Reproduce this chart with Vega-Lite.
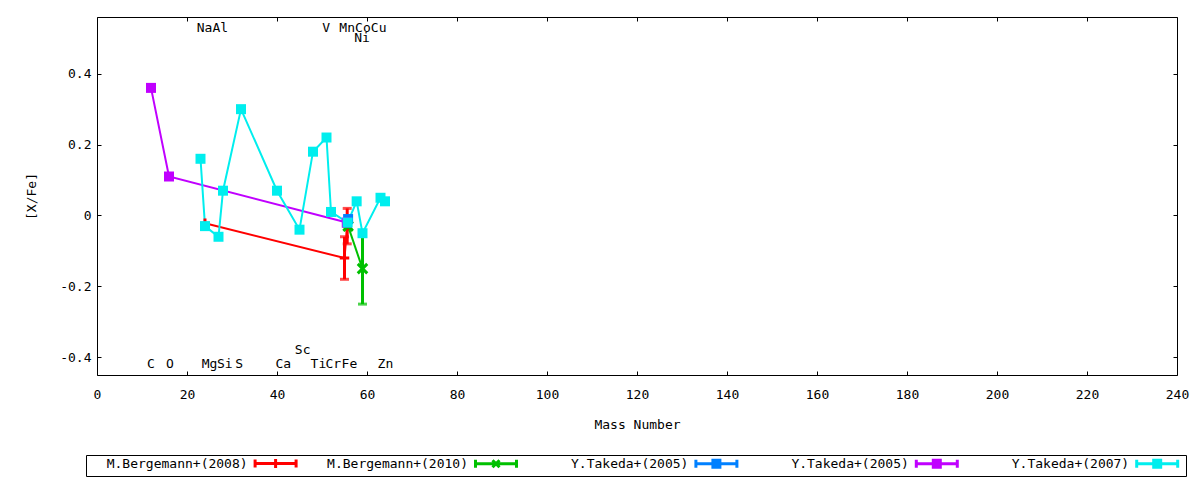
{
  "$schema": "https://vega.github.io/schema/vega-lite/v6.json",
  "width": 1080,
  "height": 358,
  "autosize": {"type": "none"},
  "padding": {"left": 97, "top": 17, "right": 23, "bottom": 105},
  "background": "white",
  "config": {
    "view": {"stroke": "black", "strokeWidth": 1},
    "font": "DejaVu Sans Mono",
    "axis": {
      "labelFont": "DejaVu Sans Mono", "labelFontSize": 13, "labelColor": "black",
      "titleFont": "DejaVu Sans Mono", "titleFontSize": 13, "titleFontWeight": "normal", "titleColor": "black",
      "tickColor": "black", "tickWidth": 1, "domain": false, "grid": false
    },
    "legend": {
      "labelFont": "DejaVu Sans Mono", "labelFontSize": 13, "labelColor": "black"
    }
  },
  "datasets": {
    "series": [
      {"s": "B08", "A": 24, "v": -0.022, "lo": -0.022, "hi": -0.022},
      {"s": "B08", "A": 55, "v": -0.12, "lo": -0.18, "hi": -0.06},
      {"s": "B08", "A": 55.6, "v": -0.03, "lo": -0.08, "hi": 0.02},
      {"s": "B10", "A": 55.8, "v": -0.03, "lo": -0.04, "hi": -0.02},
      {"s": "B10", "A": 59, "v": -0.15, "lo": -0.25, "hi": -0.05},
      {"s": "T05a", "A": 55.8, "v": -0.01, "lo": -0.01, "hi": -0.01},
      {"s": "T05b", "A": 12, "v": 0.36, "lo": 0.36, "hi": 0.36},
      {"s": "T05b", "A": 16, "v": 0.11, "lo": 0.11, "hi": 0.11},
      {"s": "T05b", "A": 55.5, "v": -0.02, "lo": -0.02, "hi": -0.02},
      {"s": "T07", "A": 23, "v": 0.16, "lo": 0.16, "hi": 0.16},
      {"s": "T07", "A": 24, "v": -0.03, "lo": -0.03, "hi": -0.03},
      {"s": "T07", "A": 27, "v": -0.06, "lo": -0.06, "hi": -0.06},
      {"s": "T07", "A": 28, "v": 0.07, "lo": 0.07, "hi": 0.07},
      {"s": "T07", "A": 32, "v": 0.30, "lo": 0.30, "hi": 0.30},
      {"s": "T07", "A": 40, "v": 0.07, "lo": 0.07, "hi": 0.07},
      {"s": "T07", "A": 45, "v": -0.04, "lo": -0.04, "hi": -0.04},
      {"s": "T07", "A": 48, "v": 0.18, "lo": 0.18, "hi": 0.18},
      {"s": "T07", "A": 51, "v": 0.22, "lo": 0.22, "hi": 0.22},
      {"s": "T07", "A": 52, "v": 0.01, "lo": 0.01, "hi": 0.01},
      {"s": "T07", "A": 55.7, "v": -0.02, "lo": -0.02, "hi": -0.02},
      {"s": "T07", "A": 57.7, "v": 0.04, "lo": 0.04, "hi": 0.04},
      {"s": "T07", "A": 59, "v": -0.05, "lo": -0.05, "hi": -0.05},
      {"s": "T07", "A": 63, "v": 0.05, "lo": 0.05, "hi": 0.05},
      {"s": "T07", "A": 64, "v": 0.04, "lo": 0.04, "hi": 0.04}
    ],
    "elements": [
      {"el": "Na", "A": 23.9, "v": 0.53},
      {"el": "Al", "A": 27.4, "v": 0.53},
      {"el": "V", "A": 50.9, "v": 0.53},
      {"el": "Mn", "A": 55.6, "v": 0.53},
      {"el": "Co", "A": 59.1, "v": 0.53},
      {"el": "Cu", "A": 62.6, "v": 0.53},
      {"el": "Ni", "A": 58.9, "v": 0.50},
      {"el": "C", "A": 12, "v": -0.42},
      {"el": "O", "A": 16.2, "v": -0.42},
      {"el": "Mg", "A": 25, "v": -0.42},
      {"el": "Si", "A": 28.4, "v": -0.42},
      {"el": "S", "A": 31.6, "v": -0.42},
      {"el": "Ca", "A": 41.4, "v": -0.42},
      {"el": "Ti", "A": 49.2, "v": -0.42},
      {"el": "Cr", "A": 52.5, "v": -0.42},
      {"el": "Fe", "A": 56.1, "v": -0.42},
      {"el": "Zn", "A": 64.1, "v": -0.42},
      {"el": "Sc", "A": 45.7, "v": -0.38}
    ]
  },
  "resolve": {"axis": {"x": "independent", "y": "independent"}},
  "layer": [
    {
      "data": {"name": "series"},
      "transform": [{"filter": "datum.lo !== datum.hi"}],
      "mark": {"type": "rule", "strokeWidth": 3},
      "encoding": {
        "x": {"field": "A", "type": "quantitative", "scale": {"domain": [0, 240], "nice": false, "zero": false},
          "axis": {"orient": "bottom", "values": [0,20,40,60,80,100,120,140,160,180,200,220,240], "tickSize": -4, "labelPadding": 17, "title": "Mass Number", "titlePadding": 17, "labelFlush": false}},
        "y": {"field": "lo", "type": "quantitative", "scale": {"domain": [-0.45, 0.56], "nice": false, "zero": false},
          "axis": {"orient": "left", "values": [-0.4,-0.2,0,0.2,0.4], "tickSize": -4, "labelPadding": 10, "labelExpr": "'' + datum.value", "title": "[X/Fe]", "titlePadding": 21}},
        "y2": {"field": "hi"},
        "color": {
          "field": "s", "type": "nominal",
          "scale": {"domain": ["B08", "B10", "T05a", "T05b", "T07"], "range": ["#ff0000", "#00c000", "#0080ff", "#c000ff", "#00eeee"]},
          "legend": {
            "orient": "none", "legendX": -11, "legendY": 438,
            "direction": "horizontal", "columns": 5, "columnPadding": 5.4, "rowPadding": 0,
            "padding": 2, "strokeColor": "black", "title": null,
            "symbolSize": 100, "symbolStrokeWidth": 3, "symbolOffset": 181.1,
            "labelAlign": "right", "labelOffset": -34.5, "labelLimit": 300, "labelBaseline": "middle",
            "labelExpr": "datum.value === 'B08' ? 'M.Bergemann+(2008)' : datum.value === 'B10' ? 'M.Bergemann+(2010)' : datum.value === 'T07' ? 'Y.Takeda+(2007)' : 'Y.Takeda+(2005)'",
            "encode": {
              "symbols": {
                "update": {
                  "fill": {"scale": "color", "field": "value"},
                  "stroke": {"scale": "color", "field": "value"},
                  "strokeWidth": {"value": 3},
                  "opacity": {"value": 1},
                  "shape": {"signal": "datum.value === 'B08' ? 'M-4.1,0H4.1M-4.1,-0.8V0.8M4.1,-0.8V0.8M0,-0.9V0.9' : datum.value === 'B10' ? 'M-4.1,0H4.1M-4.1,-0.8V0.8M4.1,-0.8V0.8M-0.7,-0.7L0.7,0.7M-0.7,0.7L0.7,-0.7' : 'M-4.1,0H4.1M-4.1,-0.8V0.8M4.1,-0.8V0.8M-0.7,-0.7H0.7V0.7H-0.7Z'"}
                }
              }
            }
          }
        }
      }
    },
    {
      "data": {"name": "series"},
      "transform": [{"filter": "datum.lo !== datum.hi"}],
      "mark": {"type": "tick", "orient": "horizontal", "thickness": 3, "size": 9},
      "encoding": {
        "x": {"field": "A", "type": "quantitative", "axis": null},
        "y": {"field": "lo", "type": "quantitative", "axis": null},
        "color": {"field": "s", "type": "nominal"}
      }
    },
    {
      "data": {"name": "series"},
      "transform": [{"filter": "datum.lo !== datum.hi"}],
      "mark": {"type": "tick", "orient": "horizontal", "thickness": 3, "size": 9},
      "encoding": {
        "x": {"field": "A", "type": "quantitative", "axis": null},
        "y": {"field": "hi", "type": "quantitative", "axis": null},
        "color": {"field": "s", "type": "nominal"}
      }
    },
    {
      "data": {"name": "series"},
      "mark": {"type": "line", "strokeWidth": 2},
      "encoding": {
        "x": {"field": "A", "type": "quantitative",
          "axis": {"orient": "top", "values": [0,20,40,60,80,100,120,140,160,180,200,220,240], "tickSize": -4, "labels": false, "title": null}},
        "y": {"field": "v", "type": "quantitative",
          "axis": {"orient": "right", "values": [-0.4,-0.2,0,0.2,0.4], "tickSize": -4, "labels": false, "title": null}},
        "color": {"field": "s", "type": "nominal"}
      }
    },
    {
      "data": {"name": "series"},
      "transform": [{"filter": "datum.s === 'B08' || datum.s === 'B10'"}],
      "mark": {"type": "point", "filled": false, "strokeWidth": 3, "opacity": 1},
      "encoding": {
        "x": {"field": "A", "type": "quantitative", "axis": null},
        "y": {"field": "v", "type": "quantitative", "axis": null},
        "shape": {"field": "s", "type": "nominal", "scale": {"domain": ["B08", "B10"], "range": ["M-1,0H1M0,-1V1", "M-1,-1L1,1M-1,1L1,-1"]}, "legend": null},
        "size": {"value": 90},
        "color": {"field": "s", "type": "nominal"}
      }
    },
    {
      "data": {"name": "series"},
      "transform": [{"filter": "datum.s === 'T05a' || datum.s === 'T05b' || datum.s === 'T07'"}],
      "mark": {"type": "point", "shape": "square", "filled": true, "size": 100, "opacity": 1},
      "encoding": {
        "x": {"field": "A", "type": "quantitative", "axis": null},
        "y": {"field": "v", "type": "quantitative", "axis": null},
        "color": {"field": "s", "type": "nominal"}
      }
    },
    {
      "data": {"name": "elements"},
      "mark": {"type": "text", "font": "DejaVu Sans Mono", "fontSize": 13, "color": "black", "align": "center", "baseline": "middle"},
      "encoding": {
        "x": {"field": "A", "type": "quantitative", "axis": null},
        "y": {"field": "v", "type": "quantitative", "axis": null},
        "text": {"field": "el"}
      }
    }
  ]
}
